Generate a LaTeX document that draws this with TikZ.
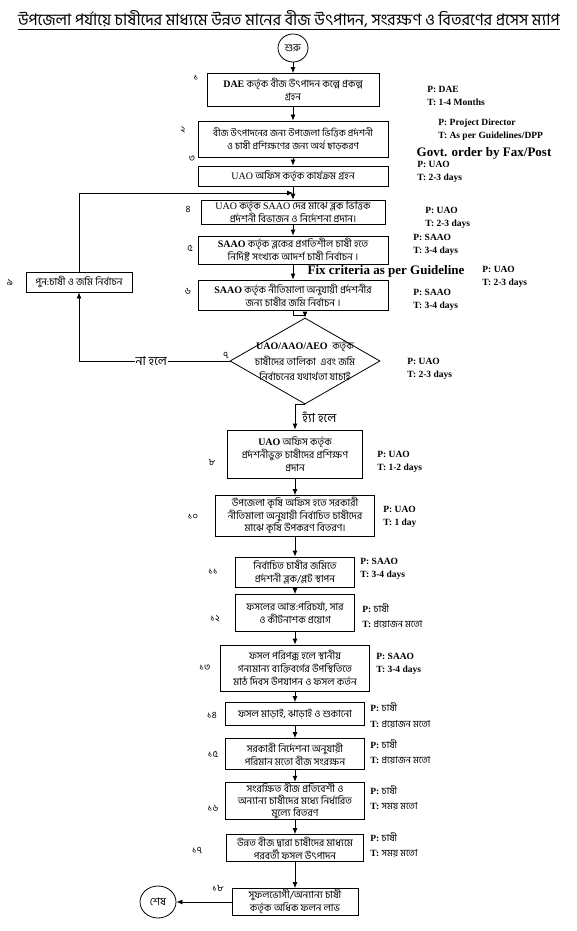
\documentclass[tikz,border=0pt]{standalone}
\usepackage{fontspec}
\setmainfont{Liberation Serif}
\newfontfamily\bn[Script=Bengali]{Hind Siliguri}
\usetikzlibrary{shapes.geometric,arrows.meta}
\newcommand{\en}[1]{{\rmfamily #1}}

\begin{document}
\begin{tikzpicture}[
        x=1pt, y=-1pt,
        >={Latex[length=6pt,width=5pt]},
        line width=0.8pt,
        box/.style={
            draw,
            align=center,
            inner sep=1pt,
            font=\bn\fontsize{10}{13}\selectfont
        },
        term/.style={draw, ellipse, inner sep=0pt, font=\bn\fontsize{10.5}{11}\selectfont},
        dtext/.style={align=center, inner sep=0pt, font=\bn\fontsize{10}{15.5}\selectfont},
        num/.style={inner sep=0pt, font=\bn\fontsize{9.5}{10}\selectfont},
        pt/.style={anchor=west, align=left, inner sep=0pt, font=\rmfamily\bfseries\fontsize{9.5}{13}\selectfont},
        note/.style={inner sep=0pt, font=\rmfamily\bfseries\fontsize{13}{14}\selectfont},
        branch/.style={inner sep=1pt, font=\bn\fontsize{12.5}{13}\selectfont}
    ]
        \useasboundingbox (0,0) rectangle (577,931);

        \node[font=\bn\fontsize{16}{17}\selectfont] (title) at (289,20) {\underline{উপজেলা পর্যায়ে চাষীদের মাধ্যমে উন্নত মানের বীজ উৎপাদন, সংরক্ষণ ও বিতরণের  প্রসেস ম্যাপ}};
        \node[term, minimum width=30pt, minimum height=28pt] (start) at (293,48) {শুরু};

        % main column
        \node[box, minimum width=172pt, minimum height=33pt] (b1) at (293,90) {\en{\bfseries DAE} কর্তৃক বীজ উৎপাদন কল্পে প্রকল্প\\গ্রহন};
        \node[box, minimum width=190pt, minimum height=36pt, font=\bn\fontsize{9.5}{13}\selectfont] (b2) at (293,139) {বীজ উৎপাদনের জন্য উপজেলা ভিত্তিক প্রর্দশনী\\ও চাষী প্রশিক্ষণের জন্য অর্থ ছাড়করণ};
        \node[box, minimum width=190pt, minimum height=20pt] (b3) at (293,176) {\en{UAO} অফিস কর্তৃক কার্যক্রম গ্রহন};
        \node[box, minimum width=184pt, minimum height=22pt, font=\bn\fontsize{10}{11}\selectfont] (b4) at (293,212) {\en{UAO} কর্তৃক \en{SAAO} দের মাঝে ব্লক ভিত্তিক\\প্রর্দশনী বিভাজন ও নির্দেশনা প্রদান।};
        \node[box, minimum width=190pt, minimum height=28pt] (b5) at (293,250) {\en{\bfseries SAAO} কর্তৃক ব্লকের প্রগতিশীল চাষী হতে\\নির্দিষ্ট সংখ্যক আদর্শ চাষী নির্বাচন ।};
        \node[box, minimum width=190pt, minimum height=30pt] (b6) at (293,295) {\en{\bfseries SAAO} কর্তৃক নীতিমালা অনুযায়ী প্রর্দশনীর\\জন্য চাষীর জমি নির্বাচন ।};
        \node[draw, diamond, minimum width=150pt, minimum height=86pt, inner sep=0pt] (d7) at (305,361) {};
        \node[dtext] (t7) at (d7) {\en{\bfseries UAO/AAO/AEO}~ কর্তৃক\\চাষীদের তালিকা ~এবং জমি\\নির্বাচনের যথার্থতা যাচাই};
        \node[box, minimum width=106pt, minimum height=20pt] (b9) at (79,282) {পুন:চাষী ও জমি নির্বাচন};
        \node[box, minimum width=135pt, minimum height=48pt] (b8) at (295,454) {\en{\bfseries UAO} অফিস কর্তৃক\\প্রর্দশনীভুক্ত চাষীদের প্রশিক্ষণ\\প্রদান};
        \node[box, minimum width=159pt, minimum height=41pt, font=\bn\fontsize{10}{12.5}\selectfont] (b10) at (295,516) {উপজেলা কৃষি অফিস হতে সরকারী\\নীতিমালা অনুযায়ী নির্বাচিত চাষীদের\\মাঝে কৃষি উপকরণ বিতরণ।};
        \node[box, minimum width=119pt, minimum height=30pt] (b11) at (295,572) {নির্বাচিত চাষীর জমিতে\\প্রর্দশনী ব্লক/প্লট স্থাপন};
        \node[box, minimum width=119pt, minimum height=37pt] (b12) at (295,613) {ফসলের আন্ত:পরিচর্যা, সার\\ও কীটনাশক প্রয়োগ};
        \node[box, minimum width=149pt, minimum height=46pt] (b13) at (295,668) {ফসল পরিপক্ক হলে স্থানীয়\\গন্যমান্য ব্যক্তিবর্গের উপস্থিতিতে\\মাঠ দিবস উপযাপন ও ফসল কর্তন};
        \node[box, minimum width=139pt, minimum height=23pt] (b14) at (295,714) {ফসল মাড়াই, ঝাড়াই ও শুকানো};
        \node[box, minimum width=139pt, minimum height=31pt] (b15) at (295,754) {সরকারী নির্দেশনা অনুযায়ী\\পরিমান মতো বীজ সংরক্ষন};
        \node[box, minimum width=139pt, minimum height=36pt, font=\bn\fontsize{10}{12}\selectfont] (b16) at (295,801) {সংরক্ষিত বীজ প্রতিবেশী ও\\অন্যান্য চাষীদের মধ্যে নির্ধারিত\\মুল্যে বিতরণ};
        \node[box, minimum width=137pt, minimum height=27pt] (b17) at (295,848) {উন্নত বীজ দ্বারা চাষীদের মাধ্যমে\\পরবর্তী ফসল উৎপাদন};
        \node[box, minimum width=126pt, minimum height=27pt] (b18) at (295,902) {সুফলভোগী/অন্যান্য চাষী\\কর্তৃক অধিক ফলন লাভ};
        \node[term, minimum width=36pt, minimum height=32pt] (end) at (158,902) {শেষ};

        % step numbers
        \node[num] (n1) at (196,78) {১};
        \node[num] (n2) at (183,130) {২};
        \node[num] (n3) at (192,159) {৩};
        \node[num] (n4) at (188,209) {৪};
        \node[num] (n5) at (190,248) {৫};
        \node[num] (n6) at (188,291) {৬};
        \node[num] (n7) at (226,355) {৭};
        \node[num] (n8) at (212,462) {৮};
        \node[num] (n9) at (10,282) {৯};
        \node[num] (n10) at (193,517) {১০};
        \node[num] (n11) at (213,572) {১১};
        \node[num] (n12) at (215,619) {১২};
        \node[num] (n13) at (205,668) {১৩};
        \node[num] (n14) at (212,715) {১৪};
        \node[num] (n15) at (213,754) {১৫};
        \node[num] (n16) at (213,808) {১৬};
        \node[num] (n17) at (197,850) {১৭};
        \node[num] (n18) at (218,888) {১৮};

        % person / time
        \node[pt] (p1) at (427,96) {P: DAE\\T: 1-4 Months};
        \node[pt] (p2) at (438,130) {P: Project Director\\T: As per Guidelines/DPP};
        \node[note] (govt) at (484,153) {Govt. order by Fax/Post};
        \node[pt] (p3) at (417,172) {P: UAO\\T: 2-3 days};
        \node[pt] (p4) at (425,218) {P: UAO\\T: 2-3 days};
        \node[pt] (p5) at (413,245) {P: SAAO\\T: 3-4 days};
        \node[note] (fix) at (386,271) {Fix criteria as per Guideline};
        \node[pt] (pfix) at (482,277) {P: UAO\\T: 2-3 days};
        \node[pt] (p6) at (413,300) {P: SAAO\\T: 3-4 days};
        \node[pt] (p7) at (407,369) {P: UAO\\T: 2-3 days};
        \node[pt] (p8) at (377,462) {P: UAO\\T: 1-2 days};
        \node[pt] (p10) at (383,517) {P: UAO\\T: 1 day};
        \node[pt] (p11) at (360,569) {P: SAAO\\T: 3-4 days};
        \node[pt, font=\rmfamily\bfseries\fontsize{9.5}{15}\selectfont] (p12) at (362,616) {P: {\bn\mdseries চাষী}\\T: {\bn\mdseries প্রয়োজন মতো}};
        \node[pt] (p13) at (376,664) {P: SAAO\\T: 3-4 days};
        \node[pt, font=\rmfamily\bfseries\fontsize{9.5}{16}\selectfont] (p14) at (370,715) {P: {\bn\mdseries চাষী}\\T: {\bn\mdseries প্রয়োজন মতো}};
        \node[pt, font=\rmfamily\bfseries\fontsize{9.5}{15}\selectfont] (p15) at (370,752) {P: {\bn\mdseries চাষী}\\T: {\bn\mdseries প্রয়োজন মতো}};
        \node[pt, font=\rmfamily\bfseries\fontsize{9.5}{15}\selectfont] (p16) at (370,798) {P: {\bn\mdseries চাষী}\\T: {\bn\mdseries সময় মতো}};
        \node[pt, font=\rmfamily\bfseries\fontsize{9.5}{15}\selectfont] (p17) at (370,845) {P: {\bn\mdseries চাষী}\\T: {\bn\mdseries সময় মতো}};

        \coordinate (join) at (293,193);

        \draw[->] (start) -- (b1);
        \draw[->] (b1) -- (b2);
        \draw[->] (b2) -- (b3);
        \draw[->] (b3) -- (b4);
        \draw[->] (b9.north) |- (join);
        \draw[->] (b4) -- (b5);
        \draw[->] (b5) -- (b6);
        \draw[->] (b6.south) -- ++(0,5) -| (d7.north);
        \draw[->] (d7.west) -| node[branch, pos=0.26, fill=white] (no) {না হলে} (b9.south);
        \draw[->] (d7.south) -| node[branch, pos=0.75, right=6pt] (yes) {হ্যাঁ হলে} (b8.north);
        \draw[->] (b8) -- (b10);
        \draw[->] (b10) -- (b11);
        \draw[->] (b11) -- (b12);
        \draw[->] (b12) -- (b13);
        \draw[->] (b13) -- (b14);
        \draw[->] (b14) -- (b15);
        \draw[->] (b15) -- (b16);
        \draw[->] (b16) -- (b17);
        \draw[->] (b17) -- (b18);
        \draw[->] (b18) -- (end);
    \end{tikzpicture}
\end{document}
